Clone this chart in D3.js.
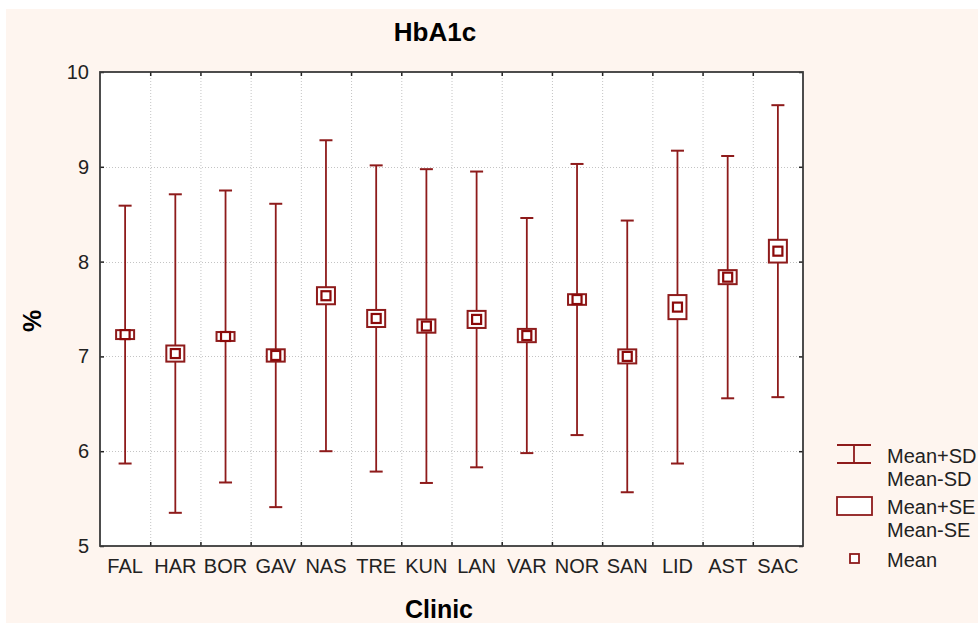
<!DOCTYPE html>
<html lang="en">
<head>
    <meta charset="UTF-8">
    <script src="https://cdnjs.cloudflare.com/ajax/libs/d3/7.8.5/d3.min.js"></script>
    <title>HbA1c by clinic</title>
    <style>
        body { margin: 0; background: #ffffff; }
        text { font-family: "Liberation Sans", Arial, sans-serif; }
    </style>
</head>
<body>

<script>

    // values
    let clinics = ["FAL", "HAR", "BOR", "GAV", "NAS", "TRE", "KUN", "LAN", "VAR", "NOR", "SAN", "LID", "AST", "SAC"];
    let means = [7.23, 7.03, 7.21, 7.01, 7.64, 7.40, 7.32, 7.39, 7.22, 7.60, 7.00, 7.52, 7.836, 8.11];
    let sds = [1.36, 1.68, 1.54, 1.60, 1.64, 1.615, 1.655, 1.56, 1.24, 1.43, 1.433, 1.65, 1.278, 1.54];
    let ses = [0.047, 0.085, 0.047, 0.065, 0.09, 0.09, 0.07, 0.09, 0.07, 0.056, 0.074, 0.127, 0.074, 0.12];
    let yTicks = [5, 6, 7, 8, 9, 10];
    let legendItems = [["Mean+SD", "Mean-SD"], ["Mean+SE", "Mean-SE"], ["Mean"]];

    let data = clinics.map(function(c, i) {
        return {clinic: c, mean: means[i], sd: sds[i], se: ses[i]};
    });

    let W = 978, H = 623;
    let plot = {left: 100, top: 72, right: 803, bottom: 546};
    let red = "#8e1b1b";

    let svg = d3.select("body").append("svg")
        .attr("width", W)
        .attr("height", H);

    // peach background with thin white edge at top/left
    svg.append("rect")
        .attr("x", 6).attr("y", 9)
        .attr("width", W - 6).attr("height", H - 9)
        .attr("fill", "#fef5ef");

    svg.append("rect")
        .attr("x", plot.left).attr("y", plot.top)
        .attr("width", plot.right - plot.left).attr("height", plot.bottom - plot.top)
        .attr("fill", "#ffffff");

    let x = d3.scaleBand().domain(clinics).range([plot.left, plot.right]).padding(0);
    let y = d3.scaleLinear().domain([5, 10]).range([plot.bottom, plot.top]);

    // grid
    let grid = svg.append("g")
        .attr("stroke", "#c4c4c4")
        .attr("stroke-dasharray", "1,2");

    grid.selectAll(".vg")
        .data(clinics.slice(1))
        .enter().append("line")
        .attr("x1", function(d) { return x(d) + 0.5; })
        .attr("x2", function(d) { return x(d) + 0.5; })
        .attr("y1", plot.top)
        .attr("y2", plot.bottom);

    grid.selectAll(".hg")
        .data(yTicks.slice(1, -1))
        .enter().append("line")
        .attr("x1", plot.left)
        .attr("x2", plot.right)
        .attr("y1", function(d) { return Math.round(y(d)) + 0.5; })
        .attr("y2", function(d) { return Math.round(y(d)) + 0.5; });

    // axes, ticks pointing inwards
    let yAxisL = d3.axisLeft(y).tickValues(yTicks).tickFormat(d3.format("d"))
        .tickSizeInner(-4).tickSizeOuter(0).tickPadding(11);
    let yAxisR = d3.axisRight(y).tickValues(yTicks).tickSizeInner(-4).tickSizeOuter(0).tickFormat("");
    let xAxisB = d3.axisBottom(x).tickSizeInner(0).tickSizeOuter(0).tickPadding(13);

    let gL = svg.append("g").attr("transform", "translate(" + plot.left + ",0)").call(yAxisL);
    let gR = svg.append("g").attr("transform", "translate(" + plot.right + ",0)").call(yAxisR);
    let gB = svg.append("g").attr("transform", "translate(0," + plot.bottom + ")").call(xAxisB);

    [gL, gR, gB].forEach(function(g) {
        g.select(".domain").remove();
        g.selectAll("line").attr("stroke", "#222").attr("stroke-width", 1.5);
        g.selectAll("text").attr("font-size", "20px").attr("fill", "#222")
            .style("font-family", "'Liberation Sans', Arial, sans-serif");
    });
    gB.selectAll("text").attr("dy", "0.71em");

    // x ticks at band boundaries, top and bottom
    let bounds = clinics.slice(1).map(function(d) { return x(d); });
    svg.append("g").selectAll("line")
        .data(bounds)
        .enter().append("line")
        .attr("x1", function(d) { return d + 0.5; })
        .attr("x2", function(d) { return d + 0.5; })
        .attr("y1", plot.bottom)
        .attr("y2", plot.bottom - 4)
        .attr("stroke", "#222").attr("stroke-width", 1.5);
    svg.append("g").selectAll("line")
        .data(bounds)
        .enter().append("line")
        .attr("x1", function(d) { return d + 0.5; })
        .attr("x2", function(d) { return d + 0.5; })
        .attr("y1", plot.top)
        .attr("y2", plot.top + 4)
        .attr("stroke", "#222").attr("stroke-width", 1.5);

    // frame
    svg.append("rect")
        .attr("x", plot.left).attr("y", plot.top)
        .attr("width", plot.right - plot.left).attr("height", plot.bottom - plot.top)
        .attr("fill", "none")
        .attr("stroke", "#3a3a3a")
        .attr("stroke-width", 1.8);

    // marks
    let capW = 13, boxW = 18, meanW = 9;
    let marks = svg.append("g").selectAll("g")
        .data(data)
        .enter().append("g")
        .attr("transform", function(d) { return "translate(" + (x(d.clinic) + x.bandwidth() / 2) + ",0)"; });

    marks.append("line")
        .attr("x1", 0).attr("x2", 0)
        .attr("y1", function(d) { return y(d.mean + d.sd); })
        .attr("y2", function(d) { return y(d.mean - d.sd); })
        .attr("stroke", red).attr("stroke-width", 1.8);

    marks.append("line")
        .attr("x1", -capW / 2).attr("x2", capW / 2)
        .attr("y1", function(d) { return y(d.mean + d.sd); })
        .attr("y2", function(d) { return y(d.mean + d.sd); })
        .attr("stroke", red).attr("stroke-width", 2);

    marks.append("line")
        .attr("x1", -capW / 2).attr("x2", capW / 2)
        .attr("y1", function(d) { return y(d.mean - d.sd); })
        .attr("y2", function(d) { return y(d.mean - d.sd); })
        .attr("stroke", red).attr("stroke-width", 2);

    marks.append("rect")
        .attr("x", -boxW / 2)
        .attr("y", function(d) { return y(d.mean + d.se); })
        .attr("width", boxW)
        .attr("height", function(d) { return y(d.mean - d.se) - y(d.mean + d.se); })
        .attr("fill", "#ffffff")
        .attr("stroke", red).attr("stroke-width", 2);

    marks.append("rect")
        .attr("x", -meanW / 2)
        .attr("y", function(d) { return y(d.mean) - meanW / 2; })
        .attr("width", meanW)
        .attr("height", meanW)
        .attr("fill", "#ffffff")
        .attr("stroke", "#8b0a0a").attr("stroke-width", 2.2);

    // titles
    svg.append("text")
        .attr("x", 435).attr("y", 41)
        .attr("text-anchor", "middle")
        .attr("font-size", "26px").attr("font-weight", "bold")
        .text("HbA1c");

    svg.append("text")
        .attr("x", 439).attr("y", 618)
        .attr("text-anchor", "middle")
        .attr("font-size", "25px").attr("font-weight", "bold")
        .text("Clinic");

    svg.append("text")
        .attr("transform", "translate(41,321) rotate(-90)")
        .attr("text-anchor", "middle")
        .attr("font-size", "25px").attr("font-weight", "bold")
        .text("%");

    // legend
    let leg = svg.append("g").attr("transform", "translate(837,0)");
    let sym = leg.append("g").attr("stroke", red).attr("stroke-width", 1.8).attr("fill", "#ffffff");
    sym.append("line").attr("x1", 0).attr("x2", 34).attr("y1", 445).attr("y2", 445);
    sym.append("line").attr("x1", 0).attr("x2", 34).attr("y1", 463).attr("y2", 463);
    sym.append("line").attr("x1", 17).attr("x2", 17).attr("y1", 445).attr("y2", 463);
    sym.append("rect").attr("x", 0).attr("y", 497).attr("width", 35).attr("height", 18);
    sym.append("rect").attr("x", 13).attr("y", 554).attr("width", 9).attr("height", 9);

    let legY = [[463, 486], [514, 537], [567]];
    legendItems.forEach(function(lines, i) {
        lines.forEach(function(t, j) {
            leg.append("text")
                .attr("x", 50).attr("y", legY[i][j])
                .attr("font-size", "20px").attr("fill", "#222")
                .text(t);
        });
    });

</script>

</body>
</html>
